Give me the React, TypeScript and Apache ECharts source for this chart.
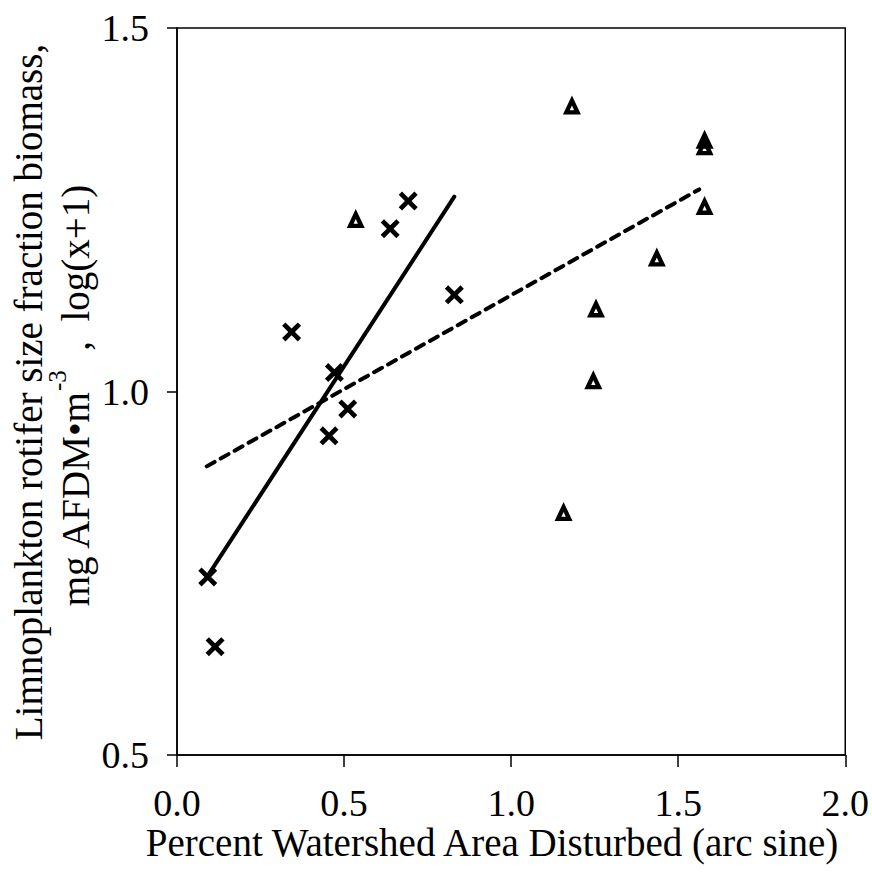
import React, { useEffect, useRef } from "react";
import * as echarts from "echarts";

// ---- data ----
const crossX = [0.092, 0.114, 0.343, 0.455, 0.471, 0.511, 0.638, 0.692, 0.830];
const crossY = [0.745, 0.649, 1.082, 0.939, 1.026, 0.976, 1.224, 1.262, 1.133];

const triX = [0.535, 1.157, 1.182, 1.246, 1.254, 1.436, 1.579, 1.579, 1.579];
const triY = [1.238, 0.835, 1.394, 1.016, 1.115, 1.185, 1.256, 1.338, 1.347];

const solidFitX = [0.09, 0.83];
const solidFitY = [0.745, 1.268];
const dashedFitX = [0.089, 1.563];
const dashedFitY = [0.897, 1.278];

const xTicks = [0, 0.5, 1.0, 1.5, 2.0];
const yTicks = [0.5, 1.0, 1.5];

const xTitle = "Percent Watershed Area Disturbed (arc sine)";
const yTitle1 = "Limnoplankton rotifer size fraction biomass,";
const yTitle2a = "mg AFDM\u2022m";
const yTitle2sup = "-3";
const yTitle2b = "  ,  log(x+1)";

const FONT = "'Liberation Serif', 'Times New Roman', serif";

const CROSS =
  "path://M3.5,0 L10,6.5 L16.5,0 L20,3.5 L13.5,10 L20,16.5 L16.5,20 L10,13.5 L3.5,20 L0,16.5 L6.5,10 L0,3.5 Z";
const TRIANGLE =
  "path://M10,0 L20,20 L0,20 Z M10,10.5 L7.6,15.5 L12.4,15.5 Z";

const zip = (a: number[], b: number[]) => a.map((v, i) => [v, b[i]]);

export default function App() {
  const ref = useRef<HTMLDivElement>(null);
  useEffect(() => {
    if (!ref.current) return;
    const chart = echarts.init(ref.current, undefined, { renderer: "svg" });
    chart.setOption({
      animation: false,
      backgroundColor: "#fff",
      grid: {
        left: 177,
        right: 26,
        top: 28,
        bottom: 131,
        show: true,
        borderColor: "#000",
        borderWidth: 1.5,
        backgroundColor: "transparent",
      },
      xAxis: {
        type: "value",
        min: xTicks[0],
        max: xTicks[xTicks.length - 1],
        interval: 0.5,
        axisLine: { show: true, onZero: false, lineStyle: { color: "#000", width: 1.5 } },
        axisTick: { show: true, inside: false, length: 12, lineStyle: { color: "#000", width: 1.5 } },
        splitLine: { show: false },
        axisLabel: {
          margin: 29,
          color: "#000",
          fontFamily: FONT,
          fontSize: 38,
          formatter: (v: number) => v.toFixed(1),
        },
      },
      yAxis: {
        type: "value",
        min: yTicks[0],
        max: yTicks[yTicks.length - 1],
        interval: 0.5,
        axisLine: { show: true, onZero: false, lineStyle: { color: "#000", width: 1.5 } },
        axisTick: { show: true, inside: false, length: 10, lineStyle: { color: "#000", width: 1.5 } },
        splitLine: { show: false },
        axisLabel: {
          margin: 28,
          color: "#000",
          fontFamily: FONT,
          fontSize: 38,
          formatter: (v: number) => v.toFixed(1),
        },
      },
      graphic: [
        {
          type: "text",
          x: 492,
          y: 842,
          style: {
            text: xTitle,
            fill: "#000",
            font: `39px ${FONT}`,
            textAlign: "center",
            textVerticalAlign: "middle",
          },
        },
        {
          type: "text",
          x: 28,
          y: 392,
          rotation: Math.PI / 2,
          style: {
            text: yTitle1,
            fill: "#000",
            font: `39px ${FONT}`,
            textAlign: "center",
            textVerticalAlign: "middle",
          },
        },
        {
          type: "text",
          x: 75,
          y: 396,
          rotation: Math.PI / 2,
          style: {
            text: `{n|${yTitle2a}}{s|${yTitle2sup}}{n|${yTitle2b}}`,
            fill: "#000",
            fontFamily: FONT,
            fontSize: 39,
            textAlign: "center",
            textVerticalAlign: "middle",
            rich: {
              n: { fontFamily: FONT, fontSize: 39, fill: "#000" },
              s: {
                fontFamily: FONT,
                fontSize: 25,
                fill: "#000",
                verticalAlign: "top",
                padding: [0, 0, 36, 0],
              },
            },
          },
        },
      ],
      series: [
        {
          type: "line",
          data: zip(solidFitX, solidFitY),
          showSymbol: false,
          symbol: "none",
          lineStyle: { color: "#000", width: 4, cap: "round" },
          z: 2,
        },
        {
          type: "line",
          data: zip(dashedFitX, dashedFitY),
          showSymbol: false,
          symbol: "none",
          lineStyle: { color: "#000", width: 4, type: [9, 7], cap: "round" },
          z: 2,
        },
        {
          type: "scatter",
          data: zip(crossX, crossY),
          symbol: CROSS,
          symbolSize: 19,
          itemStyle: { color: "#000", opacity: 1 },
          z: 3,
        },
        {
          type: "scatter",
          data: zip(triX, triY),
          symbol: TRIANGLE,
          symbolSize: [18, 19],
          itemStyle: { color: "#000", opacity: 1 },
          z: 3,
        },
      ],
    });
    return () => chart.dispose();
  }, []);
  return (
    <div
      ref={ref}
      style={{ position: "fixed", left: 0, top: 0, width: 872, height: 886 }}
    />
  );
}
